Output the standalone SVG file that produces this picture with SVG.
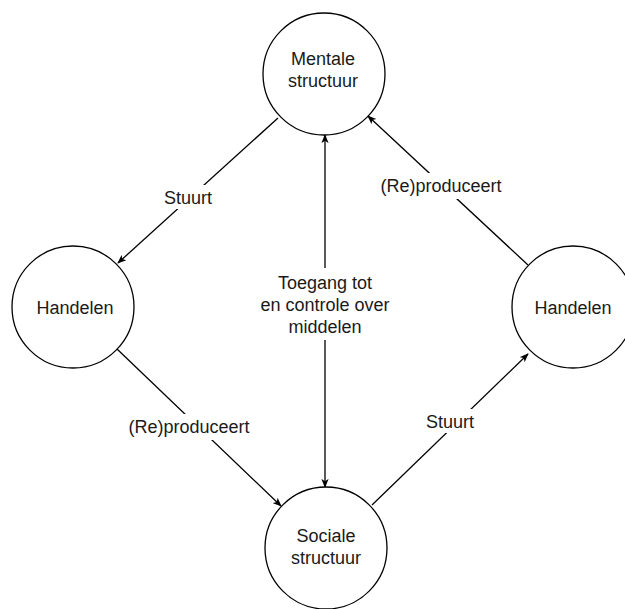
<svg xmlns="http://www.w3.org/2000/svg" width="625" height="609" viewBox="0 0 625 609">
<style>
.node{fill:#fff;stroke:#000;stroke-width:1.3}
.lbl{font-family:"Liberation Sans",Arial,sans-serif;font-size:18px;fill:#1a1a1a;text-anchor:middle}
.edge{stroke:#000;stroke-width:1.3;fill:none;marker-end:url(#arr)}
.bg{fill:#fff}
</style>
<defs>
<marker id="arr" viewBox="0 0 10 8" refX="9" refY="4" markerWidth="9" markerHeight="8" markerUnits="userSpaceOnUse" orient="auto-start-reverse">
<path d="M0,0 L10,4 L0,8 L2.5,4 z" fill="#000"/>
</marker>
</defs>
<rect width="625" height="609" fill="#fff"/>
<g id="connectors">
<line class="edge" x1="278" y1="118" x2="118" y2="263"/>
<line class="edge" x1="117" y1="349" x2="281" y2="506"/>
<line class="edge" x1="372" y1="505" x2="528" y2="354"/>
<line class="edge" x1="528" y1="265" x2="368" y2="116"/>
<line class="edge" x1="325" y1="487" x2="325" y2="135" style="marker-start:url(#arr)"/>
<rect class="bg" x="160" y="185" width="56" height="24"/>
<text class="lbl" x="188" y="204">Stuurt</text>
<rect class="bg" x="124" y="414" width="131" height="26"/>
<text class="lbl" x="189" y="433">(Re)produceert</text>
<rect class="bg" x="422" y="409" width="56" height="24"/>
<text class="lbl" x="450" y="428">Stuurt</text>
<rect class="bg" x="376" y="173" width="131" height="26"/>
<text class="lbl" x="441" y="192">(Re)produceert</text>
<rect class="bg" x="258" y="268" width="134" height="72"/>
<text class="lbl" x="325" y="289">Toegang tot</text>
<text class="lbl" x="325" y="311">en controle over</text>
<text class="lbl" x="325" y="333">middelen</text>
</g>
<g id="mentale">
<circle class="node" cx="324" cy="74" r="61"/>
<text class="lbl" x="323" y="65">Mentale</text>
<text class="lbl" x="323" y="87">structuur</text>
</g>
<g id="handelen-links">
<circle class="node" cx="73" cy="307" r="61"/>
<text class="lbl" x="75" y="314">Handelen</text>
</g>
<g id="handelen-rechts">
<circle class="node" cx="573" cy="307" r="61"/>
<text class="lbl" x="573" y="314">Handelen</text>
</g>
<g id="sociale">
<circle class="node" cx="326" cy="548" r="61"/>
<text class="lbl" x="326" y="542">Sociale</text>
<text class="lbl" x="326" y="564">structuur</text>
</g>
</svg>
